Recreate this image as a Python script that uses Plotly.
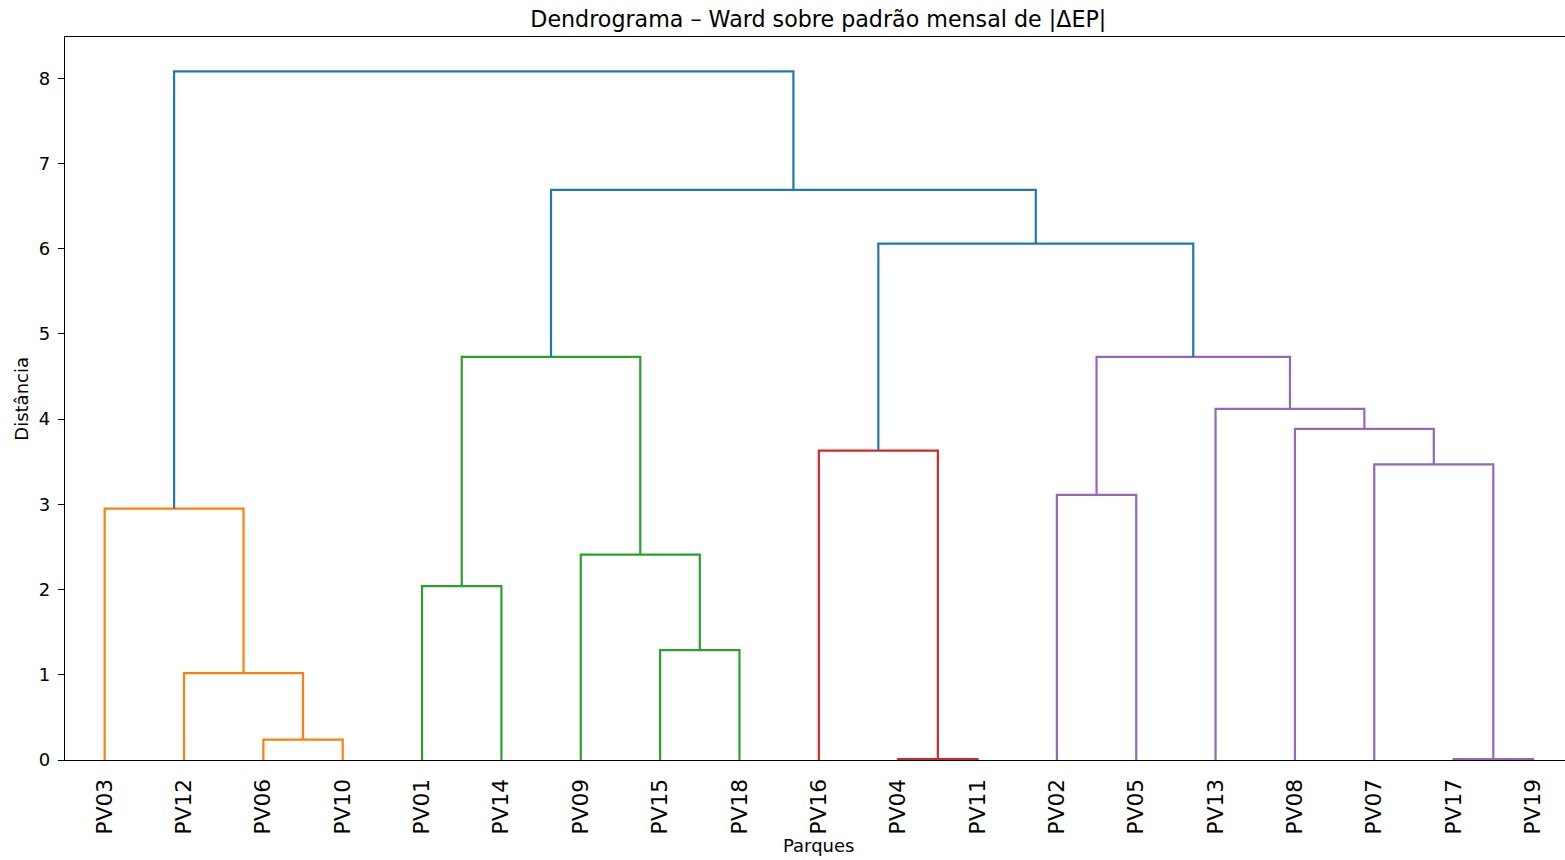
import plotly.graph_objects as go

# Leaf order along the x axis (as produced by the Ward clustering)
leaf_order = ["PV03", "PV12", "PV06", "PV10", "PV01", "PV14", "PV09", "PV15", "PV18",
              "PV16", "PV04", "PV11", "PV02", "PV05", "PV13", "PV08", "PV07", "PV17", "PV19"]

# Merge steps: left child, right child, merge distance, branch colour group
merge_left = ["PV06", "PV12", "PV03", "PV01", "PV15", "PV09", "C4", "PV04", "PV16",
              "PV02", "PV17", "PV07", "PV08", "PV13", "C10", "C9", "C7", "C3"]
merge_right = ["PV10", "C1", "C2", "PV14", "PV18", "C5", "C6", "PV11", "C8",
               "PV05", "PV19", "C11", "C12", "C13", "C14", "C15", "C16", "C17"]
merge_height = [0.24, 1.02, 2.95, 2.04, 1.29, 2.41, 4.73, 0.012, 3.63,
                3.11, 0.012, 3.47, 3.885, 4.12, 4.73, 6.06, 6.69, 8.08]
merge_group = ["C1", "C1", "C1", "C2", "C2", "C2", "C2", "C3", "C3",
               "C4", "C4", "C4", "C4", "C4", "C4", "C0", "C0", "C0"]

group_colors = {"C0": "#1f77b4", "C1": "#ff7f0e", "C2": "#2ca02c",
                "C3": "#d62728", "C4": "#9467bd"}

# leaf positions follow the scipy convention: 5, 15, 25, ...
pos = {name: 5 + 10 * i for i, name in enumerate(leaf_order)}
hgt = {name: 0.0 for name in leaf_order}

fig = go.Figure()
for k, (a, b, h, g) in enumerate(zip(merge_left, merge_right, merge_height, merge_group)):
    xa, xb = pos[a], pos[b]
    fig.add_trace(go.Scatter(
        x=[xa, xa, xb, xb], y=[hgt[a], h, h, hgt[b]],
        mode="lines", line=dict(color=group_colors[g], width=2.2),
        showlegend=False, hoverinfo="skip"))
    node = f"C{k + 1}"
    pos[node] = (xa + xb) / 2
    hgt[node] = h

W, H = 1565, 860
ML, MR, MT, MB = 65, 0, 37, 100
px_per_unit = 7.935
x_max = (W - ML - MR) / px_per_unit
y_max = max(merge_height) * 1.05

font = "DejaVu Sans"
fig.update_layout(
    width=W, height=H,
    margin=dict(l=ML, r=MR, t=MT, b=MB, pad=0),
    paper_bgcolor="white", plot_bgcolor="white",
    font=dict(family=font, color="black"),
    title=dict(text="Dendrograma – Ward sobre padrão mensal de |ΔEP|",
               x=(818.3 - ML) / (W - ML - MR), xref="paper", xanchor="center",
               y=1 - 19 / H, yref="container", yanchor="middle",
               font=dict(family=font, size=22.2, color="black")),
    xaxis=dict(range=[0, x_max], showgrid=False, zeroline=False,
               showline=True, mirror=True, linecolor="black", linewidth=1.4,
               ticks="", tickmode="array",
               tickvals=[pos[n] for n in leaf_order], ticktext=leaf_order,
               tickangle=-90, tickfont=dict(family=font, size=21.7, color="black"),
               ticklabelstandoff=9, layer="below traces"),
    yaxis=dict(range=[0, y_max], showgrid=False, zeroline=False,
               showline=True, linecolor="black", linewidth=1.4,
               ticks="outside", ticklen=6, tickwidth=1.4, tickcolor="black",
               tickmode="array", tickvals=list(range(0, 9)),
               tickfont=dict(family=font, size=18, color="black"),
               ticklabelstandoff=4, layer="below traces"),
    annotations=[
        dict(text="Parques", xref="x", yref="paper", x=95,
             y=(760.3 - 846) / (H - MT - MB), xanchor="center", yanchor="middle",
             showarrow=False, font=dict(family=font, size=18, color="black")),
        dict(text="Distância", xref="paper", yref="paper",
             x=(22 - ML) / (W - ML - MR), y=(760.3 - 399) / (H - MT - MB),
             xanchor="center", yanchor="middle", textangle=-90,
             showarrow=False, font=dict(family=font, size=18, color="black")),
    ],
)

fig.write_html("out.html")
